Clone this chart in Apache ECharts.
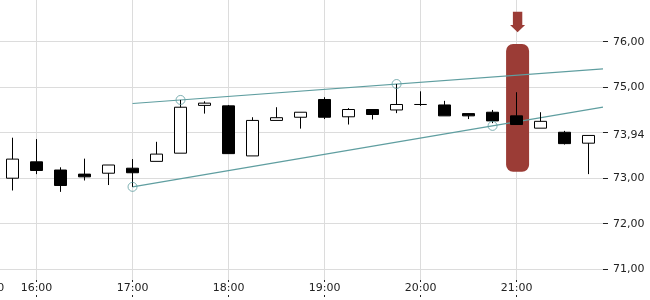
<!DOCTYPE html>
<html>
<head>
<meta charset="utf-8">
<script src="https://cdn.jsdelivr.net/npm/echarts@6/dist/echarts.min.js"></script>
<style>
html,body{margin:0;padding:0;background:#ffffff;}
#chart{width:650px;height:300px;}
</style>
</head>
<body>
<div id="chart"></div>
<script>
// ---- data ----
const times  = ['15:45','16:00','16:15','16:30','16:45','17:00','17:15','17:30','17:45','18:00','18:15','18:30','18:45','19:00','19:15','19:30','19:45','20:00','20:15','20:30','20:45','21:00','21:15','21:30','21:45'];
const opens  = [73.00,73.36,73.18,73.09,73.11,73.22,73.37,73.55,74.60,74.59,73.49,74.27,74.34,74.73,74.35,74.51,74.50,74.62,74.61,74.42,74.45,74.37,74.10,74.01,73.77];
const closes = [73.42,73.17,72.84,73.03,73.29,73.12,73.53,74.56,74.65,73.54,74.27,74.33,74.45,74.34,74.51,74.40,74.62,74.62,74.37,74.37,74.26,74.18,74.25,73.76,73.94];
const lows   = [72.73,73.09,72.70,72.95,72.85,72.81,73.37,73.55,74.42,73.54,73.49,74.27,74.09,74.30,74.18,74.29,74.43,74.59,74.37,74.30,74.21,74.18,74.10,73.74,73.09];
const highs  = [73.89,73.86,73.24,73.43,73.29,73.42,73.80,74.72,74.69,74.61,74.34,74.56,74.45,74.78,74.54,74.51,75.07,74.91,74.70,74.42,74.50,74.89,74.45,74.04,73.94];

const xLabelTimes = ['15:30','16:00','17:00','18:00','19:00','20:00','21:00'];
const xGridTimes  = ['16:00','17:00','18:00','19:00','20:00','21:00'];
const yTickValues  = [71,72,73,74,75,76];
const yLabelValues = [71,72,73,73.94,75,76];

const upperTrend = [['17:00',74.642],['21:54',75.404]];
const lowerTrend = [['17:00',72.81],['21:54',74.561]];
const trendPoints = [['17:00',72.81],['17:30',74.72],['19:45',75.07],['20:45',74.15]];

const highlightTime  = '21:00';
const highlightRange = [73.14, 75.95];

const xStart = '15:00';
const xEnd   = '21:54';
const yMin = 70.763;
const yMax = 76.9165;

// ---- helpers ----
function toMin(t){ const p = t.split(':'); return (+p[0])*60 + (+p[1]); }
function fmtTime(m){ const h = Math.floor(m/60), mm = Math.round(m - h*60); return h + ':' + (mm<10?'0':'') + mm; }
function fmtNum(v){ return v.toFixed(2).replace('.', ','); }

const candleData = times.map((t,i)=>[toMin(t), opens[i], closes[i], lows[i], highs[i]]);
const FONT = 'DejaVu Sans';
const TEAL = '#5f9ea0';
const RED = '#9b3c36';

const chart = echarts.init(document.getElementById('chart'), null, {renderer:'canvas'});
chart.setOption({
  animation:false,
  backgroundColor:'#ffffff',
  grid:{left:-59.5, right:47, top:0, bottom:20, containLabel:false, outerBoundsMode:'none'},
  xAxis:{
    type:'value', min:toMin(xStart), max:toMin(xEnd),
    axisLine:{show:false},
    axisTick:{show:true, customValues:xGridTimes.map(toMin), length:17, lineStyle:{color:'#222', width:1}},
    axisLabel:{customValues:xLabelTimes.map(toMin), formatter:fmtTime, margin:2,
      fontFamily:FONT, fontSize:11, color:'#222', backgroundColor:'#ffffff', padding:[1,0,1,0]},
    splitLine:{show:true, lineStyle:{color:'#dcdcdc', width:1}}
  },
  yAxis:{
    type:'value', position:'right', min:yMin, max:yMax,
    axisLine:{show:false},
    axisTick:{show:true, customValues:yTickValues, length:5, lineStyle:{color:'#222'}},
    axisLabel:{customValues:yLabelValues, formatter:fmtNum, margin:10,
      fontFamily:FONT, fontSize:11, color:'#222'},
    splitLine:{show:true, lineStyle:{color:'#dcdcdc', width:1}}
  },
  series:[
    {
      type:'custom', z:1, silent:true,
      data:[[toMin(highlightTime), highlightRange[0], highlightRange[1]]],
      encode:{x:0, y:[1,2]},
      renderItem:function(params, api){
        const top = api.coord([api.value(0), api.value(2)]);
        const bot = api.coord([api.value(0), api.value(1)]);
        const w = 23, cx = top[0] + 1;
        const ty = top[1];
        return {
          type:'group',
          children:[
            {type:'rect', shape:{x:cx - w/2, y:ty, width:w, height:bot[1]-ty, r:7}, style:{fill:RED}},
            {type:'polygon', shape:{points:[
              [cx-4.7, ty-32.3],[cx+4.7, ty-32.3],[cx+4.7, ty-19],[cx+7.5, ty-19],
              [cx, ty-11.7],[cx-7.5, ty-19],[cx-4.7, ty-19]
            ]}, style:{fill:RED}}
          ]
        };
      }
    },
    {
      type:'line', z:2, silent:true, symbol:'none',
      data:upperTrend.map(d=>[toMin(d[0]), d[1]]),
      lineStyle:{color:TEAL, width:1.2}
    },
    {
      type:'line', z:2, silent:true, symbol:'none',
      data:lowerTrend.map(d=>[toMin(d[0]), d[1]]),
      lineStyle:{color:TEAL, width:1.2}
    },
    {
      type:'candlestick', z:3, barWidth:12,
      data:candleData,
      encode:{x:0, y:[1,2,3,4]},
      itemStyle:{color:'#ffffff', color0:'#000000', borderColor:'#000000', borderColor0:'#000000', borderWidth:1}
    },
    {
      type:'scatter', z:4, silent:true,
      data:trendPoints.map(d=>[toMin(d[0]), d[1]]),
      symbol:'circle', symbolSize:9,
      itemStyle:{color:'rgba(0,0,0,0)', borderColor:TEAL, borderWidth:1}
    }
  ]
});
</script>
</body>
</html>
